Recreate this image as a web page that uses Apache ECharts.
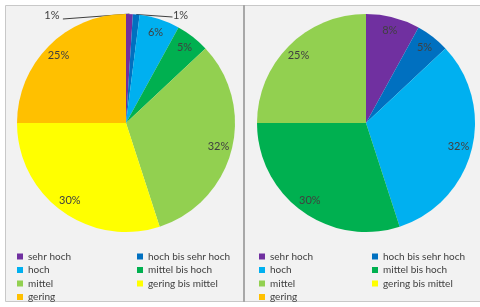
<!DOCTYPE html>
<html>
<head>
<meta charset="utf-8">
<script src="https://cdn.jsdelivr.net/npm/echarts@6/dist/echarts.min.js"></script>
<style>
  html, body { margin: 0; padding: 0; background: #ffffff; }
  #chart { width: 480px; height: 307px; }
</style>
</head>
<body>
<div id="chart"></div>
<script>
// Kategorien und Werte (Prozent)
var categories = ['sehr hoch', 'hoch bis sehr hoch', 'hoch', 'mittel bis hoch', 'mittel', 'gering bis mittel', 'gering'];
var colors = ['#7030a0', '#0070c0', '#00b0f0', '#00b050', '#92d050', '#ffff00', '#ffc000'];
var leftValues = [1, 1, 6, 5, 32, 30, 25];
var rightValues = [8, 5, 32, 30, 25];

var legendCol1 = ['sehr hoch', 'hoch', 'mittel', 'gering'];
var legendCol2 = ['hoch bis sehr hoch', 'mittel bis hoch', 'gering bis mittel'];

(function() {
	var chart = echarts.init(document.getElementById('chart'));

	var R = 109;
	var leftCenter = [126, 123];
	var rightCenter = [366, 123];
	var textColor = '#404040';
	var font = 'Lato, "Open Sans", sans-serif';

	function makeData(values) {
		return values.map(function(v, i) {
			return { name: categories[i], value: v, itemStyle: { color: colors[i] } };
		});
	}

	// Tortenstuecke (ohne Beschriftung, ausser 1%-Stuecke links)
	function mainSeries(values, center, withOuter) {
		var data = makeData(values);
		if (withOuter) {
			data[0].label = { show: true };
			data[0].labelLine = { show: true };
			data[1].label = { show: true };
			data[1].labelLine = { show: true };
		}
		return {
			type: 'pie',
			center: center,
			radius: [0, R],
			startAngle: 90,
			clockwise: true,
			avoidLabelOverlap: false,
			emphasis: { disabled: true },
			itemStyle: { borderWidth: 0 },
			label: {
				show: false,
				position: 'outside',
				formatter: '{c}%',
				color: textColor,
				fontSize: 11,
				fontFamily: font
			},
			labelLine: {
				show: false,
				lineStyle: { color: '#404040', width: 1 }
			},
			labelLayout: withOuter ? function(params) {
				if (params.seriesIndex !== 0) return {};
				var p0 = params.labelLinePoints ? params.labelLinePoints[0] : [center[0], center[1] - R];
				var y = center[1] - R + 1;
				if (params.dataIndex === 0) {
					var x = center[0] - 0.68 * R;
					return {
						x: x, y: y, align: 'center', verticalAlign: 'middle',
						labelLinePoints: [p0, [x + 11, y + 4], [x + 11, y + 4]]
					};
				}
				if (params.dataIndex === 1) {
					var x2 = center[0] + 0.5 * R;
					return {
						x: x2, y: y, align: 'center', verticalAlign: 'middle',
						labelLinePoints: [p0, [x2 - 8, y + 2], [x2 - 8, y + 2]]
					};
				}
				return {};
			} : null,
			data: data
		};
	}

	// transparente Ringe nur fuer die inneren Beschriftungen
	function labelSeries(values, center, skip) {
		var data = makeData(values).map(function(d, i) {
			d.itemStyle = { color: 'rgba(0,0,0,0)' };
			if (skip.indexOf(i) >= 0) d.label = { show: false };
			return d;
		});
		return {
			type: 'pie',
			center: center,
			radius: [R - 33, R],
			startAngle: 90,
			clockwise: true,
			silent: true,
			emphasis: { disabled: true },
			label: {
				show: true,
				position: 'inside',
				formatter: '{c}%',
				color: textColor,
				fontSize: 11,
				fontFamily: font
			},
			labelLine: { show: false },
			data: data
		};
	}

	function legend(left, names) {
		return {
			orient: 'vertical',
			left: left,
			top: 250,
			padding: 0,
			itemWidth: 6,
			itemHeight: 6,
			itemGap: 0.5,
			icon: 'rect',
			selectedMode: false,
			data: names,
			textStyle: { color: textColor, fontSize: 10, fontFamily: font, lineHeight: 13 }
		};
	}

	var option = {
		backgroundColor: '#ffffff',
		animation: false,
		graphic: [
			{
				type: 'rect', z: -10,
				shape: { x: 5.5, y: 5.5, width: 480, height: 296 },
				style: { fill: '#f2f2f2', stroke: '#c8c8c8', lineWidth: 1 }
			},
			{
				type: 'line', z: -9,
				shape: { x1: 244, y1: 5, x2: 244, y2: 302 },
				style: { stroke: '#a8a8a8', lineWidth: 2 }
			}
		],
		legend: [
			legend(17, legendCol1),
			legend(137, legendCol2),
			legend(259, legendCol1),
			legend(372, legendCol2)
		],
		series: [
			mainSeries(leftValues, leftCenter, true),
			labelSeries(leftValues, leftCenter, [0, 1]),
			mainSeries(rightValues, rightCenter, false),
			labelSeries(rightValues, rightCenter, [])
		]
	};

	chart.setOption(option);
})();
</script>
</body>
</html>
